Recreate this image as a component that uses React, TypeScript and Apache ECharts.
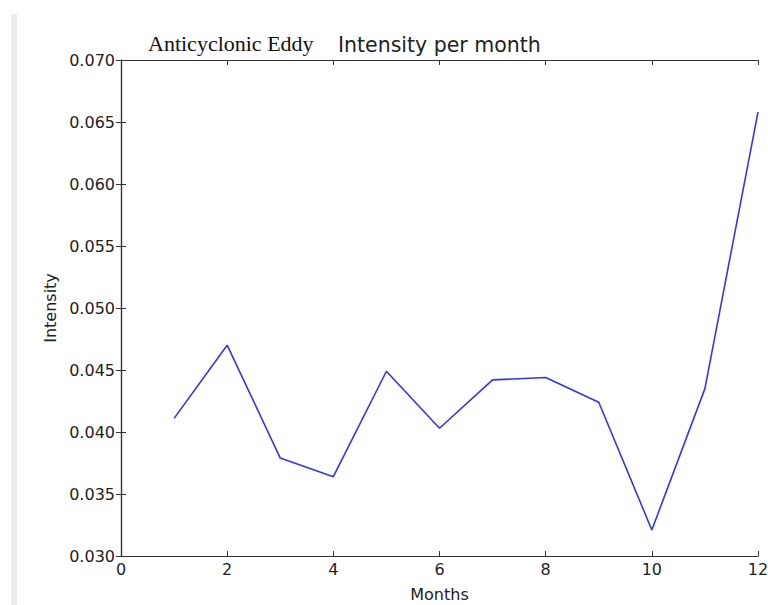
import React, { useEffect, useRef } from "react";
import * as echarts from "echarts";

const months: number[] = [1, 2, 3, 4, 5, 6, 7, 8, 9, 10, 11, 12];
const intensity: number[] = [0.0411, 0.047, 0.0379, 0.0364, 0.0449, 0.0403, 0.0442, 0.0444, 0.0424, 0.0321, 0.0435, 0.0658];
const xTicks = { min: 0, max: 12, interval: 2 };
const yTicks = { min: 0.03, max: 0.07, interval: 0.005 };
const titleText = "Intensity per month";
const subText = "Anticyclonic Eddy";
const xName = "Months";
const yName = "Intensity";

const AXIS = "#333333";
const TEXT = "#222222";
const SANS = "DejaVu Sans";

export default function App() {
  const ref = useRef<HTMLDivElement>(null);
  useEffect(() => {
    if (!ref.current) return;
    const chart = echarts.init(ref.current, undefined, { renderer: "svg" });
    const axisCommon = {
      axisLine: { show: true, lineStyle: { color: AXIS, width: 1.2 } },
      axisTick: { show: true, inside: true, length: 5, lineStyle: { color: AXIS, width: 1 } },
      splitLine: { show: false },
    };
    chart.setOption({
      animation: false,
      backgroundColor: "#ffffff",
      grid: { left: 121, top: 60, right: 10, bottom: 49, containLabel: false, outerBoundsMode: "none" },
      xAxis: [
        {
          type: "value",
          position: "bottom",
          min: xTicks.min,
          max: xTicks.max,
          interval: xTicks.interval,
          ...axisCommon,
          axisLabel: { color: TEXT, fontSize: 16, fontFamily: SANS, margin: 5 },
        },
        {
          type: "value",
          position: "top",
          min: xTicks.min,
          max: xTicks.max,
          interval: xTicks.interval,
          ...axisCommon,
          axisLabel: { show: false },
        },
      ],
      yAxis: [
        {
          type: "value",
          position: "left",
          min: yTicks.min,
          max: yTicks.max,
          interval: yTicks.interval,
          ...axisCommon,
          axisLabel: {
            color: TEXT,
            fontSize: 16,
            fontFamily: SANS,
            margin: 6,
            formatter: (v: number) => v.toFixed(3),
          },
        },
        {
          type: "value",
          position: "right",
          min: yTicks.min,
          max: yTicks.max,
          interval: yTicks.interval,
          ...axisCommon,
          axisLabel: { show: false },
        },
      ],
      series: [
        {
          type: "line",
          data: months.map((m, i) => [m, intensity[i]]),
          showSymbol: false,
          symbol: "none",
          lineStyle: { color: "#3535e6", width: 1.6 },
          clip: false,
        },
      ],
      graphic: [
        {
          type: "rect",
          shape: { x: 11, y: 14, width: 6, height: 591 },
          style: { fill: "#ebebeb" },
          silent: true,
        },
        {
          type: "text",
          x: 148,
          y: 43,
          style: {
            text: subText,
            font: "22px 'Liberation Serif', 'Times New Roman', serif",
            fill: "#111111",
            align: "left",
            verticalAlign: "middle",
          },
        },
        {
          type: "text",
          x: 338,
          y: 45,
          style: {
            text: titleText,
            font: `20.5px '${SANS}'`,
            fill: TEXT,
            align: "left",
            verticalAlign: "middle",
          },
        },
        {
          type: "text",
          x: 439.5,
          y: 594,
          style: {
            text: xName,
            font: `16px '${SANS}'`,
            fill: TEXT,
            align: "center",
            verticalAlign: "middle",
          },
        },
        {
          type: "text",
          x: 50,
          y: 308,
          rotation: Math.PI / 2,
          style: {
            text: yName,
            font: `16px '${SANS}'`,
            fill: TEXT,
            align: "center",
            verticalAlign: "middle",
          },
        },
      ],
    });
    return () => chart.dispose();
  }, []);
  return (
    <div
      ref={ref}
      style={{ position: "absolute", left: 0, top: 0, width: 768, height: 605 }}
    />
  );
}
